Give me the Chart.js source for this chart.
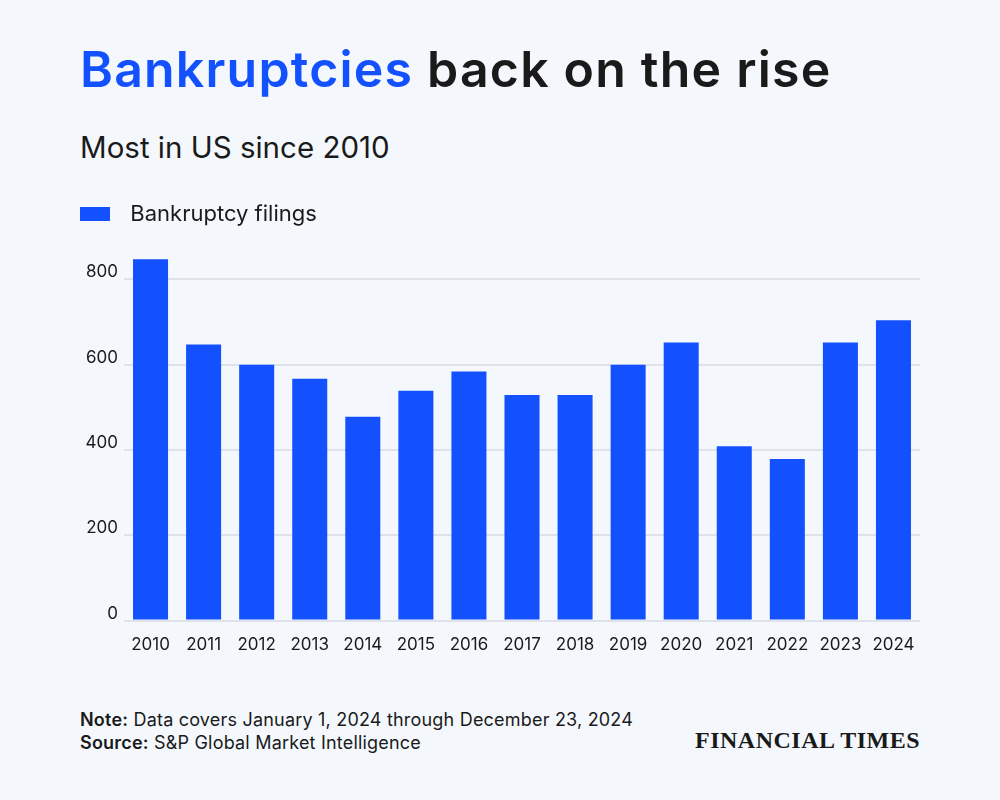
<!DOCTYPE html>
<html>
<head>
<meta charset="utf-8">
<script src="https://cdn.jsdelivr.net/npm/chart.js@4"></script>
<style>
  html,body{margin:0;padding:0;}
  body{width:1000px;height:800px;background:#f4f8fd;position:relative;overflow:hidden;font-family:Inter,"Noto Sans",sans-serif;color:#1a1a1a;}
  #title{position:absolute;left:80px;top:43.5px;font-size:50px;font-weight:600;letter-spacing:1.2px;white-space:nowrap;line-height:1;}
  #title .hl{color:#1351ff;}
  #subtitle{position:absolute;left:80px;top:133px;font-size:29.5px;font-weight:400;white-space:nowrap;line-height:1;}
  #wrap{position:absolute;left:70px;top:193px;width:860px;height:476px;}
  .foot{position:absolute;left:80px;font-size:18px;letter-spacing:0.2px;white-space:nowrap;line-height:1;}
  .foot b{font-weight:600;}
  #ft{position:absolute;left:695px;top:728px;font-family:"Liberation Serif","DejaVu Serif",serif;font-weight:700;font-size:24px;letter-spacing:0.5px;white-space:nowrap;line-height:1;color:#1a1a1a;}
</style>
</head>
<body>
<div id="title"><span class="hl">Bankruptcies</span> back on the rise</div>
<div id="subtitle">Most in US since 2010</div>
<div id="wrap"><canvas id="c"></canvas></div>
<div class="foot" style="top:710.5px"><b>Note:</b> Data covers January 1, 2024 through December 23, 2024</div>
<div class="foot" style="top:733.5px"><b>Source:</b> S&amp;P Global Market Intelligence</div>
<div id="ft">FINANCIAL TIMES</div>
<script>
const years = ["2010","2011","2012","2013","2014","2015","2016","2017","2018","2019","2020","2021","2022","2023","2024"];
const filings = [847, 647, 600, 567, 478, 539, 584, 529, 529, 600, 652, 409, 379, 652, 704];
const yTicks = [0, 200, 400, 600, 800];
const seriesName = "Bankruptcy filings";

Chart.defaults.font.family = 'Inter, "Noto Sans", sans-serif';
Chart.defaults.color = '#1a1a1a';

const legendGap = {
  id: 'legendGap',
  beforeInit(chart) {
    const orig = chart.legend.fit;
    chart.legend.fit = function () {
      orig.call(this);
      this.height += 23;
    };
  }
};

new Chart(document.getElementById('c'), {
  type: 'bar',
  data: {
    labels: years,
    datasets: [{
      label: seriesName,
      data: filings,
      backgroundColor: '#1351ff',
      borderWidth: 0,
      categoryPercentage: 1,
      barPercentage: 0.66
    }]
  },
  plugins: [legendGap],
  options: {
    responsive: true,
    maintainAspectRatio: false,
    animation: false,
    layout: { padding: { left: 0, right: 10, top: 0, bottom: 0 } },
    plugins: {
      legend: {
        display: true,
        position: 'top',
        align: 'start',
        labels: {
          boxWidth: 30,
          boxHeight: 14,
          padding: 10,
          font: { size: 22 },
          color: '#1a1a1a',
          generateLabels(chart) {
            return Chart.defaults.plugins.legend.labels.generateLabels(chart).map(l => {
              l.text = '\u2004\u200A' + l.text;
              return l;
            });
          }
        }
      },
      tooltip: { enabled: false },
      title: { display: false }
    },
    scales: {
      x: {
        grid: { display: false, drawTicks: false },
        border: { display: false },
        ticks: { font: { size: 17 }, color: '#1a1a1a', padding: 14, maxRotation: 0, autoSkip: false }
      },
      y: {
        min: 0,
        max: 850,
        afterBuildTicks: (s) => { s.ticks = yTicks.map(v => ({ value: v })); },
        afterFit: (s) => { s.width = 54; },
        grid: { color: '#dfe2ea', lineWidth: 2, drawTicks: false },
        border: { display: false },
        ticks: { font: { size: 17 }, color: '#1a1a1a', padding: 6, labelOffset: -7 }
      }
    }
  }
});
</script>
</body>
</html>
